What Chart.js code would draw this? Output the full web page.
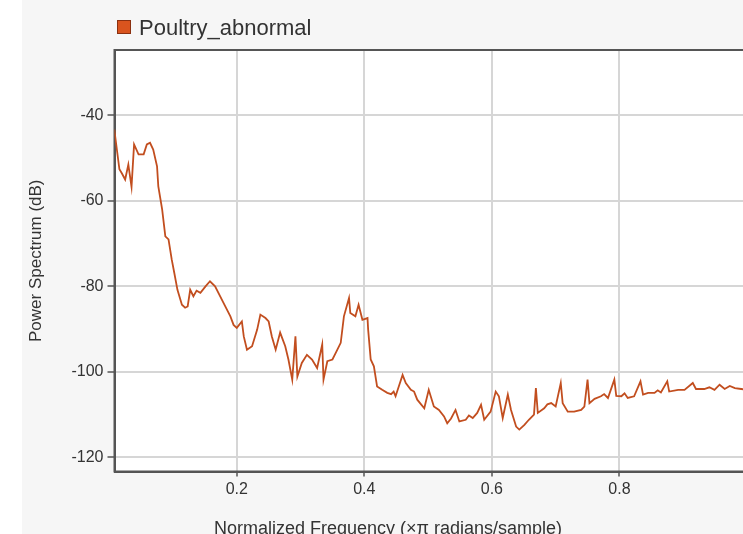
<!DOCTYPE html>
<html>
<head>
<meta charset="utf-8">
<script src="https://cdn.jsdelivr.net/npm/chart.js@4/dist/chart.umd.min.js"></script>
<style>
  html, body { margin:0; padding:0; background:#ffffff; overflow:hidden; width:743px; height:534px; }
  #wrap { position:absolute; left:0; top:0; width:743px; height:534px; overflow:hidden; }
  #bg { position:absolute; left:22px; top:0; width:721px; height:534px; background:#f6f6f6; }
  #c { position:absolute; left:0; top:0; }
  #legend { position:absolute; left:117px; top:17px; height:22px; font-family:'Liberation Sans', Arial, sans-serif; font-size:22px; line-height:22px; color:#333; white-space:nowrap; }
  #legend .sw { display:inline-block; width:12px; height:12px; background:#d9541e; border:1px solid #8a3010; vertical-align:middle; margin-right:8px; position:relative; top:-2px; }
  #xtitle { position:absolute; left:0; width:776px; text-align:center; top:518px; font-family:'Liberation Sans', Arial, sans-serif; font-size:18px; line-height:20px; color:#333; white-space:nowrap; }
</style>
</head>
<body>
<div id="wrap">
  <div id="bg"></div>
  <canvas id="c" width="747" height="545"></canvas>
  <div id="legend"><span class="sw"></span>Poultry_abnormal</div>
  <div id="xtitle">Normalized Frequency (×π radians/sample)</div>
</div>
<script>
const seriesName = 'Poultry_abnormal';
const freq = [0.008,0.016,0.020,0.025,0.030,0.035,0.039,0.046,0.054,0.059,
  0.064,0.069,0.075,0.077,0.083,0.088,0.093,0.098,0.102,0.107,
  0.114,0.119,0.123,0.127,0.132,0.137,0.143,0.151,0.158,0.166,0.179,
  0.190,0.195,0.200,0.208,0.211,0.216,0.224,0.232,0.237,0.245,0.250,
  0.255,0.261,0.268,0.276,0.281,0.287,0.292,0.295,0.302,0.310,
  0.318,0.326,0.334,0.336,0.342,0.350,0.355,0.363,0.368,0.376,
  0.378,0.386,0.391,0.397,0.405,0.406,0.410,0.415,0.420,0.428,
  0.436,0.442,0.446,0.449,0.460,0.465,0.473,0.478,0.483,0.494,0.501,0.509,0.517,
  0.525,0.530,0.536,0.543,0.549,0.559,0.564,0.570,0.577,0.583,0.588,0.598,
  0.606,0.611,0.617,0.625,0.630,0.638,0.643,0.651,0.658,0.666,
  0.669,0.672,0.682,0.687,0.693,0.700,0.708,0.711,0.719,0.729,0.740,
  0.745,0.750,0.753,0.761,0.771,0.776,0.782,0.792,0.795,0.803,0.808,0.813,
  0.823,0.833,0.837,0.845,0.855,0.860,0.865,0.875,0.878,0.892,0.902,
  0.915,0.920,0.933,0.941,0.949,0.957,0.965,0.973,0.981,0.991,1.0];
const power = [-43.3,-52.6,-53.6,-55.0,-51.5,-56.7,-46.8,-49.1,-49.1,-46.8,
  -46.4,-48.0,-51.9,-56.6,-62.0,-68.3,-69.0,-73.7,-76.8,-80.8,
  -84.3,-85.0,-84.7,-80.8,-82.3,-81.0,-81.5,-80.0,-78.8,-80.0,-83.8,
  -87.0,-89.0,-89.7,-88.2,-91.7,-94.8,-94.0,-90.1,-86.6,-87.4,-88.2,
  -91.7,-94.8,-90.8,-94.0,-97.1,-101.8,-91.7,-101.1,-97.9,-96.0,
  -97.1,-99.1,-93.6,-101.8,-97.5,-97.1,-95.6,-93.2,-87.0,-82.7,
  -86.2,-87.0,-84.3,-87.8,-87.4,-90.1,-97.1,-98.7,-103.4,-104.2,
  -104.9,-105.2,-104.6,-105.7,-100.7,-102.6,-104.2,-104.6,-106.5,-108.5,-104.2,-108.1,-108.9,
  -110.4,-112.0,-110.9,-108.9,-111.6,-111.2,-110.2,-110.8,-109.6,-107.7,-111.2,-109.3,
  -104.6,-105.7,-110.8,-105.3,-108.9,-112.8,-113.5,-112.4,-111.2,-110.0,
  -103.8,-109.6,-108.5,-107.6,-107.3,-108.1,-102.6,-107.3,-109.3,-109.3,-108.9,
  -108.1,-101.8,-107.3,-106.3,-105.7,-105.2,-106.1,-101.8,-105.6,-105.7,-105.0,-106.1,
  -105.7,-102.2,-105.3,-104.9,-104.9,-104.3,-104.8,-102.2,-104.6,-104.2,-104.2,
  -102.6,-104.0,-104.0,-103.6,-104.2,-103.0,-104.0,-103.3,-103.8,-104.0,-104.2];
const xTicks = [0.2, 0.4, 0.6, 0.8];
const yTicks = [-120, -100, -80, -60, -40];

const FONT = "'Liberation Sans', Arial, sans-serif";

const plotBg = {
  id: 'plotBg',
  beforeDraw(chart) {
    const {ctx, chartArea: a} = chart;
    ctx.save();
    ctx.fillStyle = '#ffffff';
    ctx.fillRect(a.left, a.top, a.right - a.left, a.bottom - a.top);
    ctx.restore();
  },
  beforeDatasetsDraw(chart) {
    const {ctx, chartArea: a} = chart;
    ctx.save();
    ctx.strokeStyle = '#555555';
    ctx.lineWidth = 2;
    ctx.strokeRect(a.left, a.top, a.right - a.left, a.bottom - a.top);
    ctx.restore();
  }
};

new Chart(document.getElementById('c'), {
  type: 'line',
  data: {
    datasets: [{
      label: seriesName,
      data: freq.map((f, i) => ({x: f, y: power[i]})),
      borderColor: '#c24e1f',
      backgroundColor: '#d9541e',
      borderWidth: 1.8,
      pointRadius: 0,
      tension: 0,
      fill: false
    }]
  },
  options: {
    responsive: false,
    devicePixelRatio: 1,
    animation: false,
    layout: { padding: { top: 50, right: 0, left: 0, bottom: 0 } },
    plugins: { legend: { display: false }, tooltip: { enabled: false } },
    scales: {
      x: {
        type: 'linear',
        min: 0.0083,
        max: 1.0,
        afterBuildTicks: s => { s.ticks = xTicks.map(v => ({value: v})); },
        afterFit: s => { s.height = 73.5; },
        grid: { color: '#d6d6d6', lineWidth: 2, tickColor: '#555', tickLength: 5, tickWidth: 1.5 },
        border: { color: '#555', width: 2 },
        ticks: { font: { family: FONT, size: 16 }, color: '#333', padding: 3, maxRotation: 0,
                 callback: v => v.toFixed(1) },
        title: { display: false }
      },
      y: {
        type: 'linear',
        min: -123.3,
        max: -24.7,
        afterBuildTicks: s => { s.ticks = yTicks.map(v => ({value: v})); },
        afterFit: s => { s.width = 114.5; },
        grid: { color: '#d6d6d6', lineWidth: 2, tickColor: '#555', tickLength: 7, tickWidth: 1.5 },
        border: { color: '#555', width: 2 },
        ticks: { font: { family: FONT, size: 16 }, color: '#333', padding: 4 },
        title: { display: true, text: 'Power Spectrum (dB)', font: { family: FONT, size: 17 }, color: '#333',
                 padding: { top: 26, bottom: 0 } }
      }
    }
  },
  plugins: [plotBg]
});
</script>
</body>
</html>
